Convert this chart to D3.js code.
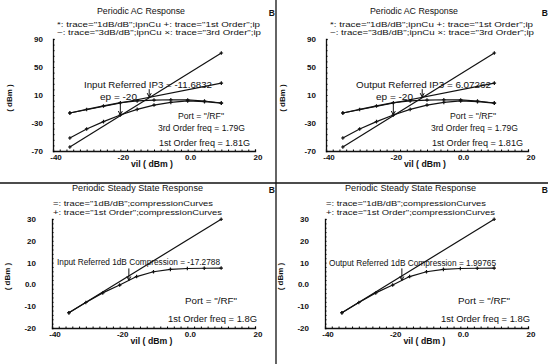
<!DOCTYPE html>
<html>
<head>
<meta charset="utf-8">
<script src="https://cdn.jsdelivr.net/npm/d3@7"></script>
<style>
  body { margin: 0; background: #fff; }
  svg { font-family: "Liberation Sans", Arial, sans-serif; }
  text { fill: #111; }
</style>
</head>
<body>
<svg id="chart" width="548" height="364"></svg>
<script>
// input power sweep (dBm)
const vin = [-35, -30, -25, -20, -15, -10, -5, 0, 5, 10];
// Periodic AC response curves
const firstOrderAC = [-15.7, -10.6, -5.6, -1.0, 1.6, 2.8, 3.2, 3.0, 1.4, -1.4];
const thirdOrderAC = [-51.4, -38.5, -28.0, -18.6, -10.5, -4.4, -0.6, 1.6, 0.4, -1.6];
// extrapolated lines, read at the ends of the sweep
const lineVin = [-35, 10];
const line1dBAC = [-15.7, 27.0];
const line3dBAC = [-64.3, 70.0];
// Periodic steady state compression curve
const compression = [-13.0, -8.3, -3.9, -0.3, 3.6, 5.8, 6.9, 7.3, 7.4, 7.5];
const line1dBComp = [-13.0, 29.9];

const xTicks = [-40, -20, 0, 20];
const xTickLabels = ['-40', '-20', '0.0', '20'];
const yTicksAC = [90, 50, 10, -30, -70];
const yTickLabelsAC = ['90', '50', '10', '-30', '-70'];
const yTicksComp = [30, 20, 10, 0, -10, -20];
const yTickLabelsComp = ['30', '20', '10', '0.0', '-10', '-20'];

const svg = d3.select('#chart');
const FS = 8.5;

// frame lines between the four panels
svg.append('line').attr('x1', 276).attr('x2', 276).attr('y1', 0).attr('y2', 364)
  .attr('stroke', '#111').attr('stroke-width', 1.3);
svg.append('line').attr('x1', 0).attr('x2', 548).attr('y1', 183).attr('y2', 183)
  .attr('stroke', '#111').attr('stroke-width', 1.6);

function txt(g, x, y, s, opts = {}) {
  const t = g.append('text').attr('x', x).attr('y', y).text(s)
    .attr('font-size', opts.size || FS)
    .attr('font-weight', opts.weight || 'normal')
    .attr('text-anchor', opts.anchor || 'start');
  if (opts.len) t.attr('textLength', opts.len).attr('lengthAdjust', 'spacingAndGlyphs');
  if (opts.rotate) t.attr('transform', `rotate(-90,${x},${y})`);
  return t;
}

function arrow(g, x, y1, y2) {
  g.append('line').attr('x1', x).attr('x2', x).attr('y1', y1).attr('y2', y2)
    .attr('stroke', '#111').attr('stroke-width', 1);
  g.append('path')
    .attr('d', `M${x - 2},${y2 - 4}L${x},${y2}L${x + 2},${y2 - 4}`)
    .attr('fill', 'none').attr('stroke', '#111').attr('stroke-width', 1);
}

function drawAxes(g, x, y, cfg) {
  const [x0, x1] = x.range();
  const [yb, yt] = y.range();
  // axis lines with small minor ticks
  g.append('g')
    .attr('transform', 'translate(0,' + yb + ')')
    .call(d3.axisBottom(x).tickValues(d3.range(-40, 21, 2)).tickSize(-1.5).tickFormat(''))
    .call((a) => a.select('.domain').attr('stroke-width', 1.3).attr('stroke', '#111'));
  g.append('g')
    .attr('transform', 'translate(' + x0 + ',0)')
    .call(d3.axisLeft(y).tickValues(cfg.minorY).tickSize(-1.5).tickFormat(''))
    .call((a) => a.select('.domain').attr('stroke-width', 1.3).attr('stroke', '#111'));
  // major tick labels
  xTicks.forEach((v, i) => {
    txt(g, x(v) + 3, yb + 9, xTickLabels[i], { anchor: 'middle', weight: 'bold', size: 8 });
  });
  cfg.yTicks.forEach((v, i) => {
    txt(g, x0 - cfg.labelGap, y(v) + 3, cfg.yLabels[i], { anchor: 'end', weight: 'bold', size: 8 });
  });
  txt(g, (x0 + x1) / 2 - 2, yb + 16, 'vil ( dBm )', { anchor: 'middle', weight: 'bold', size: 8.5, len: 42 });
  txt(g, cfg.yTitleX, (yb + yt) / 2 + 3, '( dBm )', { anchor: 'middle', rotate: true, weight: 'bold', size: 8 });
}

function drawSeries(g, x, y, xs, ys, markers) {
  const pts = xs.map((v, i) => [x(v), y(ys[i])]);
  g.append('path').attr('d', d3.line()(pts))
    .attr('fill', 'none').attr('stroke', '#111').attr('stroke-width', 1.2);
  if (markers) {
    g.selectAll(null).data(pts).enter().append('path')
      .attr('transform', (d) => 'translate(' + d[0] + ',' + d[1] + ')')
      .attr('d', d3.symbol(d3.symbolCross, 7))
      .attr('fill', '#111');
  }
}

function acPanel(ox, output) {
  const g = svg.append('g').attr('transform', 'translate(' + ox + ',0)');
  const x = d3.scaleLinear().domain([-40, 20]).range([53, 255]);
  const y = d3.scaleLinear().domain([-70, 90]).range([151, 39]);
  txt(g, 97, 14, 'Periodic AC Response', { len: 88 });
  txt(g, 275, 16, 'B', { weight: 'bold', anchor: 'end' });
  txt(g, 57, 27, '*: trace="1dB/dB";ipnCu +: trace="1st Order";ip', { size: 7, len: 203 });
  txt(g, 57, 35, '~: trace="3dB/dB";ipnCu \u00d7: trace="3rd Order";ip', { size: 7, len: 204 });
  drawAxes(g, x, y, {
    yTicks: yTicksAC, yLabels: yTickLabelsAC, minorY: d3.range(-70, 91, 8),
    labelGap: 10, yTitleX: 12,
  });
  drawSeries(g, x, y, lineVin, line1dBAC, true);
  drawSeries(g, x, y, lineVin, line3dBAC, true);
  drawSeries(g, x, y, vin, firstOrderAC, true);
  drawSeries(g, x, y, vin, thirdOrderAC, true);

  // IP3: crossing of the two extrapolated lines
  const s1 = (line1dBAC[1] - line1dBAC[0]) / (lineVin[1] - lineVin[0]);
  const s3 = (line3dBAC[1] - line3dBAC[0]) / (lineVin[1] - lineVin[0]);
  const t = (line1dBAC[0] - line3dBAC[0]) / (s3 - s1);
  const ipX = x(lineVin[0] + t);
  const ipY = y(line1dBAC[0] + s1 * t);
  arrow(g, ipX - 1, ipY - 8, ipY);
  if (output) txt(g, 83, 88, 'Output Referred IP3 = 6.07262', { len: 135 });
  else txt(g, 84, 88, 'Input Referred IP3 = -11.6832', { len: 128 });

  // extrapolation point marker at -20 dBm
  const ei = vin.indexOf(-20);
  txt(g, output ? 103 : 100, 100, 'ep = -20', { len: 37 });
  arrow(g, x(-20), y(firstOrderAC[ei]), y(thirdOrderAC[ei]));

  txt(g, output ? 177 : 178, 119, 'Port = "/RF"', { len: 46 });
  txt(g, 158, 131, '3rd Order freq = 1.79G', { len: 87 });
  txt(g, 159, 146, '1st Order freq = 1.81G', { len: 91 });
}

function compPanel(ox, output) {
  const g = svg.append('g').attr('transform', 'translate(' + ox + ',0)');
  const x = d3.scaleLinear().domain([-40, 20]).range([52, 255]);
  const y = d3.scaleLinear().domain([-20, 30]).range([328, 219]);
  txt(g, 72, 191, 'Periodic Steady State Response', { len: 131 });
  txt(g, 275, 193, 'B', { weight: 'bold', anchor: 'end' });
  txt(g, 53, 206, '=: trace="1dB/dB";compressionCurves', { size: 7.5, len: 160 });
  txt(g, 53, 214.5, '+: trace="1st Order";compressionCurves', { size: 7.5, len: 169 });
  drawAxes(g, x, y, {
    yTicks: yTicksComp, yLabels: yTickLabelsComp, minorY: d3.range(-20, 31, 2),
    labelGap: 16, yTitleX: 10,
  });
  drawSeries(g, x, y, lineVin, line1dBComp, true);
  drawSeries(g, x, y, vin, compression, true);

  // 1dB compression point
  const cp = -17.2788;
  const tipY = y(d3.scaleLinear().domain(vin).range(compression)(cp));
  arrow(g, x(cp), tipY - 12, tipY);
  if (output) txt(g, 56, 266, 'Output Referred 1dB Compression = 1.99765', { len: 167 });
  else txt(g, 57, 265, 'Input Referred 1dB Compression = -17.2788', { len: 163 });

  txt(g, 185, 304, 'Port = "/RF"', { len: 52 });
  txt(g, 168, 322, '1st Order freq = 1.8G', { len: 89 });
}

acPanel(0, false);
acPanel(273, true);
compPanel(0, false);
compPanel(273, true);
</script>
</body>
</html>
